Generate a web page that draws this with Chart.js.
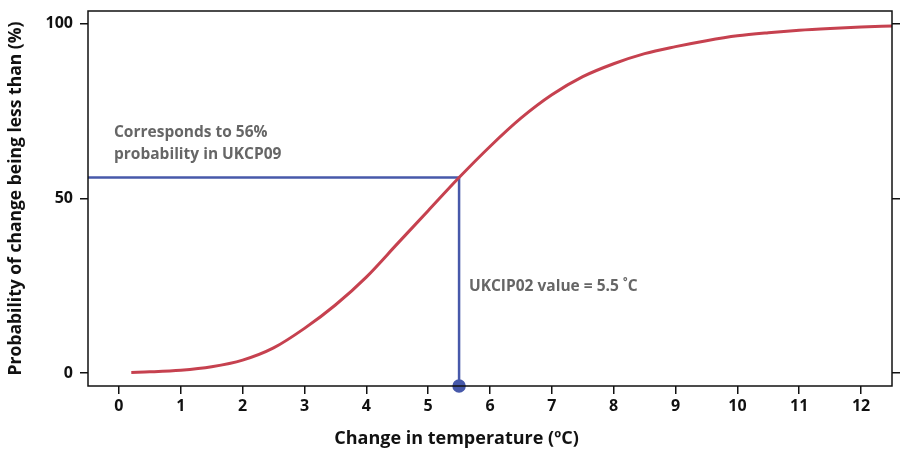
<!DOCTYPE html>
<html lang="en">
<head>
  <meta charset="UTF-8">
  <script src="https://cdn.jsdelivr.net/npm/chart.js"></script>
  <title>UKCP09 probability</title>
  <style>
    html, body { margin: 0; padding: 0; background: #fff; }
    #wrap { width: 903px; height: 450px; }
  </style>
</head>
<body>
  <div id="wrap"><canvas id="myChart"></canvas></div>
  <script>
    // values
    const tempChange = [0.2, 0.5, 1, 1.5, 2, 2.5, 3, 3.5, 4, 4.5, 5, 5.5, 6, 6.5, 7, 7.5, 8, 8.5, 9, 9.5, 10, 10.5, 11, 11.5, 12, 12.5];
    const probLess = [0.2, 0.35, 0.8, 1.8, 3.7, 7.2, 12.8, 19.5, 27.5, 37, 46.5, 56, 64.9, 73, 79.7, 84.9, 88.6, 91.5, 93.5, 95.2, 96.6, 97.5, 98.2, 98.7, 99.1, 99.4];
    const xTicks = [0, 1, 2, 3, 4, 5, 6, 7, 8, 9, 10, 11, 12];
    const yTicks = [0, 50, 100];
    const ukcip02Value = 5.5;
    const ukcp09Prob = 56;

    const xMin = -0.5, xMax = 12.5, yMin = -3.7, yMax = 103.7;
    const font = "'Open Sans', 'DejaVu Sans', sans-serif";

    // frame, x title and the text notes
    const extras = {
      id: 'extras',
      afterDraw(chart) {
        const c = chart.ctx, a = chart.chartArea;
        const xs = chart.scales.x, ys = chart.scales.y;
        c.save();
        c.strokeStyle = '#111';
        c.lineWidth = 1.5;
        c.strokeRect(a.left, a.top, a.right - a.left, a.bottom - a.top);

        c.fillStyle = '#111';
        c.font = 'bold 18px ' + font;
        c.textAlign = 'center';
        c.textBaseline = 'middle';
        c.fillText('Change in temperature (\u00BAC)', chart.width / 2 + 5, 439);

        c.fillStyle = '#666';
        c.font = 'bold 15.5px ' + font;
        c.textAlign = 'left';
        c.fillText('Corresponds to 56%', xs.getPixelForValue(-0.08), ys.getPixelForValue(68.9));
        c.fillText('probability in UKCP09', xs.getPixelForValue(-0.08), ys.getPixelForValue(62.6));
        c.fillText('UKCIP02 value = 5.5 \u02DAC', xs.getPixelForValue(5.66), ys.getPixelForValue(24.7));
        c.restore();
      }
    };

    const tickSetter = (vals) => (scale) => { scale.ticks = vals.map(v => ({ value: v })); };
    const noPad = (s) => { s.paddingTop = 0; s.paddingBottom = 0; s.paddingLeft = 0; s.paddingRight = 0; };

    new Chart(document.getElementById('myChart'), {
      type: 'line',
      data: {
        datasets: [{
          data: tempChange.map((t, i) => ({ x: t, y: probLess[i] })),
          borderColor: '#c6414f',
          borderWidth: 3,
          pointRadius: 0,
          tension: 0.4,
          cubicInterpolationMode: 'monotone'
        }, {
          data: [{ x: xMin, y: ukcp09Prob }, { x: ukcip02Value, y: ukcp09Prob }],
          borderColor: '#4759aa',
          borderWidth: 2.5,
          pointRadius: 0
        }, {
          data: [{ x: ukcip02Value, y: ukcp09Prob }, { x: ukcip02Value, y: yMin }],
          borderColor: '#4759aa',
          backgroundColor: '#4759aa',
          borderWidth: 2.5,
          pointRadius: [0, 5.5],
          clip: false
        }]
      },
      options: {
        responsive: true,
        maintainAspectRatio: false,
        animation: false,
        layout: { padding: { top: 11, right: 0, left: 0, bottom: 0 } },
        plugins: { legend: { display: false }, tooltip: { enabled: false } },
        scales: {
          x: {
            type: 'linear',
            min: xMin, max: xMax,
            afterBuildTicks: tickSetter(xTicks),
            afterFit: (s) => { s.height = 64; noPad(s); },
            grid: { drawOnChartArea: false, tickLength: 8, color: '#111', lineWidth: 1.5 },
            border: { display: false },
            ticks: { color: '#111', font: { family: font, weight: 'bold', size: 16 }, padding: 3, maxRotation: 0 }
          },
          y: {
            type: 'linear',
            min: yMin, max: yMax,
            afterBuildTicks: tickSetter(yTicks),
            afterFit: (s) => { s.width = 88; noPad(s); },
            grid: { drawOnChartArea: false, tickLength: 8, color: '#111', lineWidth: 1.5 },
            border: { display: false },
            ticks: { color: '#111', font: { family: font, weight: 'bold', size: 16 }, padding: 7 },
            title: { display: true, text: 'Probability of change being less than (%)', color: '#111', font: { family: font, weight: 'bold', size: 17.5 }, padding: { top: 6, bottom: 0 } }
          },
          y2: {
            type: 'linear',
            position: 'right',
            min: yMin, max: yMax,
            afterBuildTicks: tickSetter(yTicks),
            afterFit: (s) => { s.width = 11; noPad(s); },
            grid: { drawOnChartArea: false, tickLength: 8, color: '#111', lineWidth: 1.5 },
            border: { display: false },
            ticks: { display: false }
          }
        }
      },
      plugins: [extras]
    });
  </script>
</body>
</html>
